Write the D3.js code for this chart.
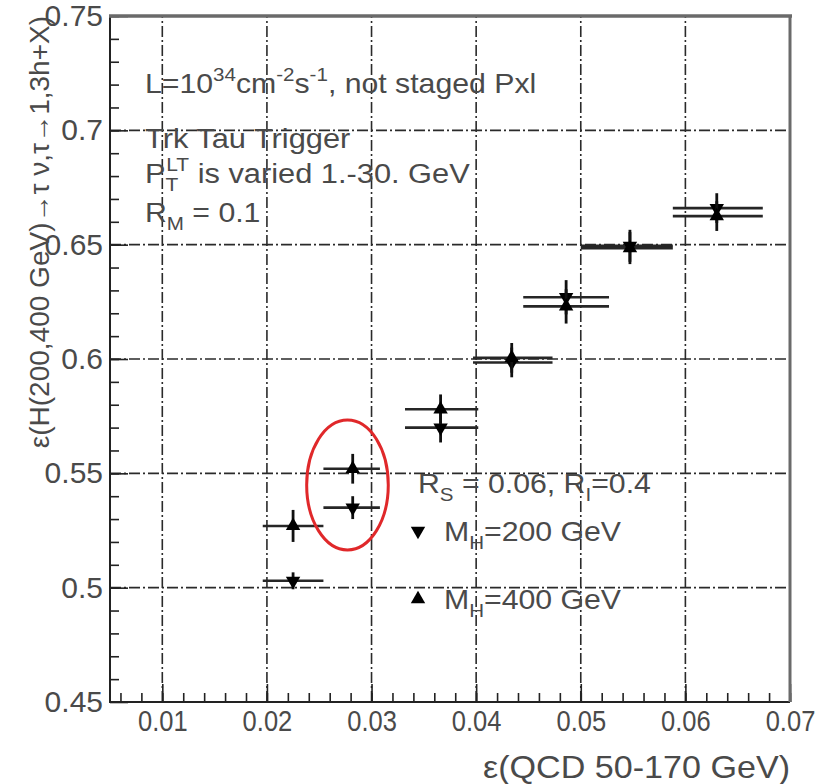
<!DOCTYPE html>
<meta charset="utf-8">
<title>Tau trigger efficiency vs QCD efficiency</title>
<script src="https://cdn.jsdelivr.net/npm/d3@7"></script>

<style>
  body { margin: 0; background: #fff; }
  svg text { font-family: "Liberation Sans", Arial, sans-serif; fill: #4a4a4a; }
</style>

<div id="chart"></div>

<script>
  // QCD efficiency (x) bins, shared by both Higgs masses
  var qcdEff   = [0.0225, 0.0282, 0.0366, 0.0434, 0.0486, 0.0547, 0.0630];
  var qcdLo    = [0.0196, 0.0254, 0.0332, 0.0397, 0.0445, 0.0500, 0.0588];
  var qcdHi    = [0.0254, 0.0308, 0.0402, 0.0473, 0.0527, 0.0588, 0.0674];

  // signal efficiency, M_H = 200 GeV (down triangles) and 400 GeV (up triangles)
  var eff200   = [0.503, 0.535, 0.570, 0.5985, 0.627, 0.6495, 0.666];
  var err200   = [0.0037, 0.005, 0.0065, 0.0065, 0.0075, 0.007, 0.0065];
  var eff400   = [0.527, 0.552, 0.578, 0.6005, 0.623, 0.6485, 0.6625];
  var err400   = [0.007, 0.0065, 0.0065, 0.0065, 0.0075, 0.007, 0.0065];

  var xTicks = [0.01, 0.02, 0.03, 0.04, 0.05, 0.06, 0.07];
  var yTicks = [0.45, 0.5, 0.55, 0.6, 0.65, 0.7, 0.75];

  // red ellipse drawn round the 0.028 points (centre and half axes, data units)
  var ring = { x: 0.0277, y: 0.5449, rx: 0.0039, ry: 0.0284 };

  var width = 825, height = 784;
  var frame = { left: 110, right: 790, top: 16, bottom: 702 };

  var svg = d3.select("#chart").append("svg")
    .attr("width", width)
    .attr("height", height);

  var x = d3.scaleLinear().domain([0.005, 0.07]).range([frame.left, frame.right]);
  var y = d3.scaleLinear().domain([0.45, 0.75]).range([frame.bottom, frame.top]);

  // grid: dash-dot lines at the major ticks
  var grid = svg.append("g")
    .attr("stroke", "#2a2a2a")
    .attr("stroke-width", 1.6)
    .attr("stroke-dasharray", "11,3,2,3");

  grid.selectAll(".gx")
    .data(xTicks.filter(function (d) { return d < 0.07; }))
    .enter().append("line")
    .attr("x1", function (d) { return x(d); })
    .attr("x2", function (d) { return x(d); })
    .attr("y1", frame.bottom)
    .attr("y2", frame.top);

  grid.selectAll(".gy")
    .data(yTicks.filter(function (d) { return d > 0.45 && d < 0.75; }))
    .enter().append("line")
    .attr("y1", function (d) { return y(d); })
    .attr("y2", function (d) { return y(d); })
    .attr("x1", frame.left)
    .attr("x2", frame.right);

  // axes with ticks pointing into the frame
  svg.append("g")
    .attr("transform", "translate(0," + frame.bottom + ")")
    .call(d3.axisBottom(x).tickValues(d3.range(0.006, 0.0701, 0.002)).tickSize(-9).tickFormat(""));
  var xLab = svg.append("g")
    .attr("class", "xlab")
    .attr("transform", "translate(0," + frame.bottom + ")")
    .call(d3.axisBottom(x).tickValues(xTicks).tickSize(-18).tickPadding(8)
      .tickFormat(function (d) { return d3.format(".2f")(d); }));

  svg.append("g")
    .attr("transform", "translate(" + frame.left + ",0)")
    .call(d3.axisLeft(y).tickValues(d3.range(0.46, 0.7501, 0.01)).tickSize(-9).tickFormat(""));
  svg.append("g")
    .attr("transform", "translate(" + frame.left + ",0)")
    .call(d3.axisLeft(y).tickValues(yTicks).tickSize(-18).tickPadding(7)
      .tickFormat(function (d) { return String(+d.toFixed(2)); }));

  svg.selectAll(".domain").remove();
  svg.selectAll(".tick line").attr("stroke", "#222").attr("stroke-width", 1.6);
  svg.selectAll(".tick text")
    .style("font-size", "30px")
    .attr("fill", "#4a4a4a");
  // x labels in the reference are narrower than the y labels
  xLab.selectAll(".tick text")
    .style("font-size", "30px")
    .attr("transform", "scale(0.85,1)");

  // frame: left/bottom dark, top/right heavier grey
  svg.append("line").attr("x1", frame.left).attr("x2", frame.left)
    .attr("y1", frame.top).attr("y2", frame.bottom + 1)
    .attr("stroke", "#222").attr("stroke-width", 2);
  svg.append("line").attr("x1", frame.left).attr("x2", frame.right)
    .attr("y1", frame.bottom).attr("y2", frame.bottom)
    .attr("stroke", "#222").attr("stroke-width", 2);
  svg.append("line").attr("x1", frame.left - 1).attr("x2", frame.right + 2)
    .attr("y1", frame.top).attr("y2", frame.top)
    .attr("stroke", "#6a6a6a").attr("stroke-width", 3.5);
  svg.append("line").attr("x1", frame.right).attr("x2", frame.right)
    .attr("y1", frame.top).attr("y2", frame.bottom)
    .attr("stroke", "#6a6a6a").attr("stroke-width", 3);

  // build one point table per mass
  function rows(eff, err) {
    return qcdEff.map(function (q, i) {
      return { x: q, lo: qcdLo[i], hi: qcdHi[i], y: eff[i], e: err[i] };
    });
  }
  var series = [
    { name: "200", data: rows(eff200, err200), rotate: 180 },
    { name: "400", data: rows(eff400, err400), rotate: 0 }
  ];

  var tri = d3.symbol().type(d3.symbolTriangle).size(90);

  series.forEach(function (s) {
    var g = svg.append("g").attr("class", "s" + s.name);

    g.selectAll(".hbar").data(s.data).enter().append("line")
      .attr("x1", function (d) { return x(d.lo); })
      .attr("x2", function (d) { return x(d.hi); })
      .attr("y1", function (d) { return y(d.y); })
      .attr("y2", function (d) { return y(d.y); })
      .attr("stroke", "#262626").attr("stroke-width", 2.6);

    g.selectAll(".vbar").data(s.data).enter().append("line")
      .attr("x1", function (d) { return x(d.x); })
      .attr("x2", function (d) { return x(d.x); })
      .attr("y1", function (d) { return y(d.y - d.e); })
      .attr("y2", function (d) { return y(d.y + d.e); })
      .attr("stroke", "#111").attr("stroke-width", 2.8);

    g.selectAll("path").data(s.data).enter().append("path")
      .attr("d", tri)
      .attr("transform", function (d) {
        return "translate(" + x(d.x) + "," + y(d.y) + ") rotate(" + s.rotate + ")";
      })
      .attr("fill", "#000");
  });

  // red ring
  svg.append("ellipse")
    .attr("cx", x(ring.x))
    .attr("cy", y(ring.y))
    .attr("rx", x(ring.x + ring.rx) - x(ring.x))
    .attr("ry", y(ring.y) - y(ring.y + ring.ry))
    .attr("fill", "none")
    .attr("stroke", "#e0282a")
    .attr("stroke-width", 3);

  // text with sub/superscripts: parts = [[text, "sup"|"sub"|null, dx]]
  // the reference text is drawn a little wider than the font, hence sx
  function rich(x0, y0, size, parts, sx) {
    var t = svg.append("text")
      .attr("transform", "translate(" + x0 + "," + y0 + ") scale(" + (sx || 1.08) + ",1)")
      .style("font-size", size + "px");
    var off = 0;
    parts.forEach(function (p) {
      var shift = p[1] === "sup" ? -0.42 * size : p[1] === "sub" ? 0.3 * size : 0;
      t.append("tspan")
        .attr("dy", shift - off)
        .attr("dx", p[2] || 0)
        .style("font-size", p[1] ? (0.68 * size) + "px" : null)
        .text(p[0]);
      off = shift;
    });
    return t;
  }

  rich(145, 93, 28, [["L=10"], ["34", "sup"], ["cm"], ["-2", "sup"], ["s"], ["-1", "sup"], [", not staged Pxl"]]);
  rich(145, 148, 28, [["Trk Tau Trigger"]], 1.1);
  rich(145, 183, 28, [["P"], ["T", "sub"], ["LT", "sup", -11], [" is varied 1.-30. GeV"]], 1.1);
  rich(145, 222, 28, [["R"], ["M", "sub"], [" = 0.1"]]);

  // legend
  rich(418, 493, 28, [["R"], ["S", "sub"], [" = 0.06, R"], ["I", "sub"], ["=0.4"]]);
  var legend = [{ label: "200", rotate: 180, ly: 541 }, { label: "400", rotate: 0, ly: 609 }];
  legend.forEach(function (l) {
    svg.append("path").attr("d", tri)
      .attr("transform", "translate(418," + (l.ly - 10) + ") rotate(" + l.rotate + ")")
      .attr("fill", "#000");
    rich(444, l.ly, 28, [["M"], ["H", "sub"], ["=" + l.label + " GeV"]]);
  });

  // axis titles
  svg.append("text")
    .attr("transform", "translate(" + frame.right + ",778) scale(1.1,1)")
    .attr("text-anchor", "end")
    .style("font-size", "31px")
    .text("ε(QCD 50-170 GeV)");

  svg.append("text")
    .attr("transform", "translate(49," + frame.top + ") rotate(-90)")
    .attr("text-anchor", "end")
    .style("font-size", "28px")
    .text("ε(H(200,400 GeV)→τ ν,τ→1,3h+X)");
</script>
